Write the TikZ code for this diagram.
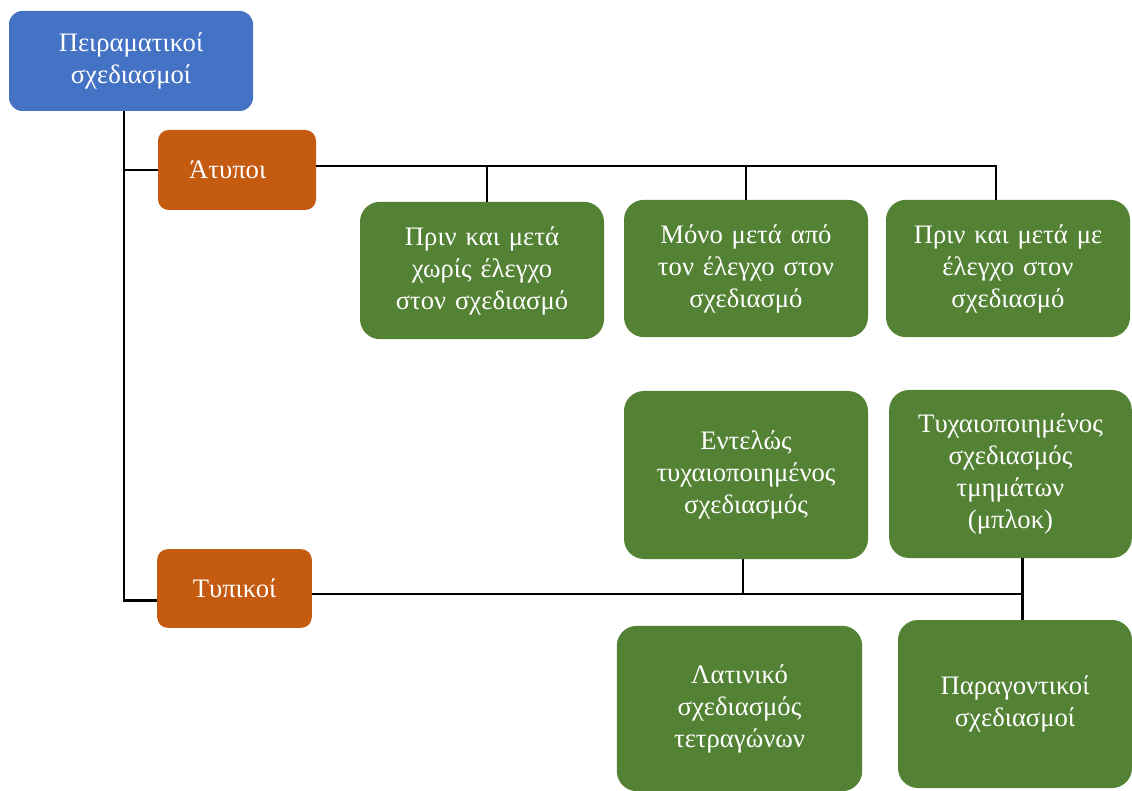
\documentclass[tikz,border=0pt]{standalone}
\usepackage{fontspec}
\setmainfont{Liberation Serif}
\usetikzlibrary{positioning}

\definecolor{rootblue}{HTML}{4472C4}
\definecolor{catorange}{HTML}{C55A11}
\definecolor{leafgreen}{HTML}{548235}

\tikzset{bb/.style={draw=none, inner sep=2mm, rounded corners=10pt, text=white, align=center,
                    font=\fontsize{20}{24}\selectfont},
         cat/.style={bb, fill=catorange, rounded corners=8pt},
         leaf/.style={bb, fill=leafgreen, rounded corners=15pt, minimum width=183pt, text width=165pt},
         conn/.style={line width=1.6pt, black}}

\begin{document}
\begin{tikzpicture}[x=0.75pt, y=-0.75pt]
    \useasboundingbox (0,0) rectangle (1132,791);

    \node[bb, fill=rootblue, minimum width=183pt, minimum height=75pt] (designs) at (131,61) {Πειραματικοί\\σχεδιασμοί};

    \node[cat, minimum width=118.5pt, minimum height=60pt] (informal) at (237,170) {Άτυποι\hspace*{14pt}};
    \node[cat, minimum width=116pt, minimum height=59pt] (formal) at (234.5,588.5) {Τυπικοί};

    \node[leaf, minimum height=103pt] (pre_post) at (482,270.5) {Πριν και μετά\\χωρίς έλεγχο\\στον σχεδιασμό};
    \node[leaf, minimum height=103pt] (post_only) at (746,268.5) {Μόνο μετά από\\τον έλεγχο στον\\σχεδιασμό};
    \node[leaf, minimum height=103pt] (pre_post_ctrl) at (1008,268.5) {Πριν και μετά με\\έλεγχο στον\\σχεδιασμό};

    \node[leaf, minimum height=126pt] (full_rand) at (746,475) {Εντελώς\\τυχαιοποιημένος\\σχεδιασμός};
    \node[leaf, minimum width=182pt, minimum height=126pt] (block_rand) at (1010.5,474) {Τυχαιοποιημένος\\σχεδιασμός\\τμημάτων\\(μπλοκ)};

    \node[leaf, minimum width=184pt, minimum height=124pt] (latin_sq) at (739.5,708.5) {Λατινικό\\σχεδιασμός\\τετραγώνων};
    \node[leaf, minimum width=175.5pt, text width=160pt, minimum height=126pt] (factorial) at (1015,704) {Παραγοντικοί\\σχεδιασμοί};

    \coordinate (trunk) at ([xshift=-5pt]designs.south);
    \coordinate (informal_bus) at ([yshift=3pt]informal.east);
    \coordinate (formal_bus) at ([yshift=-4pt]formal.east);
    \coordinate (pre_post_top) at ([xshift=3.75pt]pre_post.north);
    \coordinate (ctrl_top) at ([xshift=-9pt]pre_post_ctrl.north);
    \coordinate (block_drop) at ([xshift=9pt]block_rand.south);

    % trunk
    \draw[conn] ([yshift=-9pt]formal.west) -| (trunk);
    \draw[conn] (informal.west) -- (informal.west -| trunk);

    % informal branch
    \draw[conn] (informal_bus) -| (ctrl_top);
    \draw[conn] (pre_post_top) -- (pre_post_top |- informal_bus);
    \draw[conn] (post_only.north) -- (post_only.north |- informal_bus);

    % formal branch
    \draw[conn] (formal_bus) -| (block_drop);
    \draw[conn] ([xshift=-2pt]full_rand.south) -- ([xshift=-2pt]full_rand.south |- formal_bus);
    \draw[conn] (block_drop) -- (block_drop |- factorial.north);

\end{tikzpicture}
\end{document}
